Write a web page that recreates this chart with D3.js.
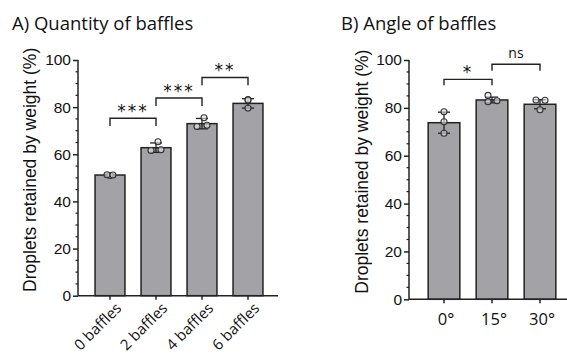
<!DOCTYPE html>
<html><head><meta charset="utf-8">
<script src="https://cdn.jsdelivr.net/npm/d3@7"></script>
<style>body{margin:0;background:#fff}svg{display:block}</style>
</head><body>
<svg id="c" width="567" height="354"></svg>
<script>
// Panel A data
const catsA = ["0 baffles", "2 baffles", "4 baffles", "6 baffles"];
const meansA = [51.2, 62.8, 73.0, 81.6];
const sdA = [0.4, 2.0, 2.2, 2.0];
const pointsA = [[51.0, 51.3, 51.2], [65.3, 61.6, 61.9], [75.5, 71.8, 72.3], [83.2, 83.0, 79.6]];
const sigA = [{a: 0, b: 1, y: 75.3, leg: 72, label: "***"}, {a: 1, b: 2, y: 83.9, leg: 80.5, label: "***"}, {a: 2, b: 3, y: 92.6, leg: 89.3, label: "**"}];
// Panel B data
const catsB = ["0°", "15°", "30°"];
const meansB = [73.8, 83.3, 81.5];
const sdB = [4.4, 1.2, 1.9];
const pointsB = [[78.4, 74.2, 69.4], [85.2, 82.6, 83.0], [83.3, 83.2, 79.2]];
const sigB = [{a: 0, b: 1, y: 91.9, leg: 89.5, label: "*"}, {a: 1, b: 2, y: 98.2, leg: 95.5, label: "ns"}];
const yTicks = [0, 20, 40, 60, 80, 100];
const yMinor = d3.range(0, 101, 5).filter(v => v % 20 !== 0);

const svg = d3.select("#c");
const ink = "#222";
const barFill = "#a3a2a7";
const sans = "Liberation Sans";

function panel(o) {
  const g = svg.append("g");
  const y = d3.scaleLinear().domain([0, 100]).range([o.y0, o.y100]);
  const x = d3.scaleBand().domain(o.cats).range([o.axX + o.pad, o.axX + o.pad + o.step * o.cats.length]).paddingInner(o.padInner).paddingOuter(o.padInner / 2);
  // title
  g.append("text").attr("x", o.titleX).attr("y", 30).style("font-family", "Open Sans").style("font-size", "18.5px").attr("fill", "#111").text(o.title);
  // y axis
  const ya = g.append("g").attr("transform", `translate(${o.axX},0)`).call(d3.axisLeft(y).tickValues(yTicks).tickSize(5).tickPadding(2));
  ya.select(".domain").attr("stroke", ink).attr("stroke-width", 1.5).attr("d", `M0,${o.y0}V${o.y100}`);
  ya.selectAll(".tick line").attr("stroke", ink).attr("stroke-width", 1.5);
  ya.selectAll(".tick text").style("font-family", sans).style("font-size", "15.5px").attr("fill", "#111");
  g.append("g").selectAll("line").data(yMinor).join("line")
    .attr("x1", o.axX - 2.5).attr("x2", o.axX).attr("y1", d => y(d)).attr("y2", d => y(d)).attr("stroke", ink).attr("stroke-width", 1.2);
  // y label
  g.append("text").attr("transform", `translate(${o.labX},${(o.y0 + o.y100) / 2 - 8}) rotate(-90)`)
    .attr("text-anchor", "middle").style("font-family", sans).style("font-size", "17.5px").attr("fill", "#111")
    .text("Droplets retained by weight (%)");
  // bars
  g.append("g").selectAll("rect").data(o.means).join("rect")
    .attr("x", (d, i) => x(o.cats[i])).attr("width", x.bandwidth())
    .attr("y", d => y(d)).attr("height", d => y(0) - y(d))
    .attr("fill", barFill).attr("stroke", ink).attr("stroke-width", 1.5);
  // x axis
  const xa = g.append("g").attr("transform", `translate(0,${o.y0})`).call(d3.axisBottom(x).tickSize(4).tickSizeOuter(0).tickFormat(""));
  xa.select(".domain").attr("stroke", ink).attr("stroke-width", 1.5).attr("d", `M${o.axX},0H${o.axEnd}`);
  xa.selectAll(".tick line").attr("stroke", ink).attr("stroke-width", 1.5);
  const cx = c => x(c) + x.bandwidth() / 2;
  // x labels
  if (o.rotate) {
    g.append("g").selectAll("text").data(o.cats).join("text")
      .attr("transform", d => `translate(${cx(d) + 5},${o.y0 + 6}) rotate(-45)`)
      .attr("text-anchor", "end").attr("dy", "0.7em").style("font-family", "Open Sans").style("font-size", "15px").attr("fill", "#111").text(d => d);
  } else {
    g.append("g").selectAll("text").data(o.cats).join("text")
      .attr("x", d => cx(d) + 2).attr("y", o.y0 + 26)
      .attr("text-anchor", "middle").style("font-family", "Open Sans").style("font-size", "16.5px").attr("fill", "#111").text(d => d);
  }
  // error bars
  const eg = g.append("g").attr("stroke", ink).attr("stroke-width", 1.3);
  o.means.forEach((m, i) => {
    const c = cx(o.cats[i]);
    eg.append("line").attr("x1", c).attr("x2", c).attr("y1", y(m - o.sd[i])).attr("y2", y(m + o.sd[i]));
    [m - o.sd[i], m + o.sd[i]].forEach(v => eg.append("line").attr("x1", c - 6).attr("x2", c + 6).attr("y1", y(v)).attr("y2", y(v)));
  });
  // points
  const pg = g.append("g");
  o.points.forEach((ps, i) => {
    const c = cx(o.cats[i]);
    ps.forEach((p, j) => {
      pg.append("circle").attr("cx", c + o.jit[i][j]).attr("cy", y(p)).attr("r", 3)
        .attr("fill", "#e6e6e8").attr("fill-opacity", 0.6).attr("stroke", "#333").attr("stroke-width", 1.1);
    });
  });
  // significance
  const sg = g.append("g");
  o.sig.forEach(s => {
    const xa_ = cx(o.cats[s.a]), xb = cx(o.cats[s.b]);
    sg.append("path").attr("d", `M${xa_},${y(s.leg)}V${y(s.y)}H${xb}V${y(s.leg)}`)
      .attr("fill", "none").attr("stroke", ink).attr("stroke-width", 1.4);
    const isStar = s.label.indexOf("*") >= 0;
    sg.append("text").attr("x", (xa_ + xb) / 2).attr("y", y(s.y) - (isStar ? 1 : 6))
      .attr("text-anchor", "middle").style("font-family", isStar ? "DejaVu Sans" : "Open Sans")
      .style("font-size", isStar ? "17px" : "14px").attr("letter-spacing", isStar ? 2 : 0)
      .attr("fill", "#111").text(s.label);
  });
}

panel({cats: catsA, means: meansA, sd: sdA, points: pointsA, sig: sigA,
  jit: [[0, -3, 3], [2, -5, 5], [2, -5, 5], [0, 0, 0]],
  y0: 295.7, y100: 60, axX: 78, axEnd: 278, pad: 9, step: 46, padInner: 0.35,
  title: "A) Quantity of baffles", titleX: 12, labX: 36, rotate: true});
panel({cats: catsB, means: meansB, sd: sdB, points: pointsB, sig: sigB,
  jit: [[0, 0, 0], [-4, -4, 5], [-4, 5, 0]],
  y0: 299.3, y100: 60, axX: 409, axEnd: 567, pad: 11, step: 48, padInner: 0.34,
  title: "B) Angle of baffles", titleX: 341, labX: 368, rotate: false});
</script>
</body></html>
